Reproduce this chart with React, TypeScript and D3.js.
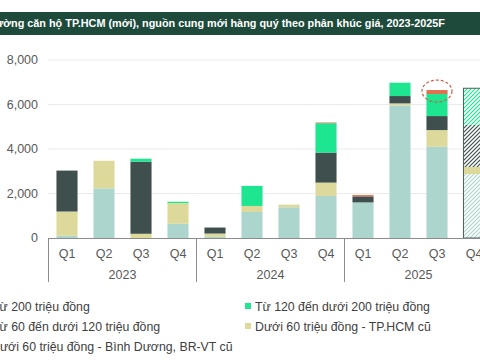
import * as d3 from "d3";
import { useEffect, useRef } from "react";

const years = ["2023", "2024", "2025"];
const quarterNames = ["Q1", "Q2", "Q3", "Q4"];
const periods = ["2023Q1", "2023Q2", "2023Q3", "2023Q4", "2024Q1", "2024Q2", "2024Q3", "2024Q4", "2025Q1", "2025Q2", "2025Q3", "2025Q4"];
const forecastPeriod = "2025Q4";

// bottom to top
const duoi60BinhDuong = [100, 2230, 0, 640, 50, 1170, 1380, 1890, 1600, 5960, 4100, 2870];
const duoi60HCM = [1090, 1240, 190, 930, 150, 270, 120, 600, 0, 90, 750, 320];
const tu60den120 = [1840, 0, 3240, 0, 270, 0, 0, 1350, 270, 330, 630, 1890];
const tu120den200 = [0, 0, 135, 60, 0, 900, 0, 1320, 0, 600, 990, 1650];
const tu200 = [0, 0, 0, 0, 0, 0, 0, 30, 60, 0, 180, 0];

const yTicks = [0, 2000, 4000, 6000, 8000];

const title = "Thị trường căn hộ TP.HCM (mới), nguồn cung mới hàng quý theo phân khúc giá, 2023-2025F";

const series = [
  { key: "bd", name: "Dưới 60 triệu đồng - Bình Dương, BR-VT cũ", values: duoi60BinhDuong, color: "#acd5ce" },
  { key: "hcm", name: "Dưới 60 triệu đồng - TP.HCM cũ", values: duoi60HCM, color: "#dcd99b" },
  { key: "mid", name: "Từ 60 đến dưới 120 triệu đồng", values: tu60den120, color: "#3e4f4e" },
  { key: "high", name: "Từ 120 đến dưới 200 triệu đồng", values: tu120den200, color: "#1ee690" },
  { key: "top", name: "Từ 200 triệu đồng", values: tu200, color: "#e0704f" }
];

const Chart = () => {
  const ref = useRef(null);

  useEffect(() => {
    const svg = d3.select(ref.current);
    svg.selectAll("*").remove();

    const width = 480;
    const font = "'Liberation Sans', Arial, sans-serif";

    // hatch patterns for the forecast bar
    const defs = svg.append("defs");
    series.forEach(s => {
      const p = defs.append("pattern")
        .attr("id", "hatch-" + s.key)
        .attr("patternUnits", "userSpaceOnUse")
        .attr("width", 4)
        .attr("height", 4);
      p.append("rect").attr("width", 4).attr("height", 4).attr("fill", "#fff");
      p.append("path")
        .attr("d", "M-1,1 l2,-2 M0,4 l4,-4 M3,5 l2,-2")
        .attr("stroke", s.color)
        .attr("stroke-width", 1.2);
    });

    // title band
    svg.append("rect")
      .attr("x", 0).attr("y", 12)
      .attr("width", width).attr("height", 23)
      .attr("fill", "#1d4a3a");
    svg.append("text")
      .attr("x", 445).attr("y", 27)
      .attr("text-anchor", "end")
      .attr("fill", "#fff")
      .attr("font-family", font)
      .attr("font-weight", "bold")
      .attr("font-size", 10.85)
      .text(title);

    const x = d3.scaleBand()
      .domain(periods)
      .range([48.5, 492.5])
      .paddingInner(0.43)
      .paddingOuter(0.215);

    const y = d3.scaleLinear()
      .domain([0, 8000])
      .range([238, 60]);

    // gridlines + y labels
    svg.append("g").selectAll("line")
      .data(yTicks.filter(t => t > 0))
      .join("line")
      .attr("x1", 48).attr("x2", width)
      .attr("y1", d => y(d)).attr("y2", d => y(d))
      .attr("stroke", "#ebebeb");

    svg.append("g").selectAll("text")
      .data(yTicks)
      .join("text")
      .attr("x", 38)
      .attr("y", d => y(d))
      .attr("dy", "0.35em")
      .attr("text-anchor", "end")
      .attr("fill", "#595959")
      .attr("font-family", font)
      .attr("font-size", 12.5)
      .text(d => d3.format(",")(d));

    // stacked bars
    const rows = periods.map((p, i) => {
      const r = { period: p };
      series.forEach(s => { r[s.key] = s.values[i]; });
      return r;
    });
    const stack = d3.stack().keys(series.map(s => s.key))(rows);

    stack.forEach((layer, li) => {
      const s = series[li];
      svg.append("g").selectAll("rect")
        .data(layer.filter(d => d[1] - d[0] > 0))
        .join("rect")
        .attr("x", d => x(d.data.period))
        .attr("width", x.bandwidth())
        .attr("y", d => y(d[1]))
        .attr("height", d => y(d[0]) - y(d[1]))
        .attr("fill", d => d.data.period === forecastPeriod && s.key !== "hcm" ? "url(#hatch-" + s.key + ")" : s.color);
    });

    // forecast outline
    const fTotal = d3.sum(series, s => s.values[periods.indexOf(forecastPeriod)]);
    svg.append("rect")
      .attr("x", x(forecastPeriod))
      .attr("y", y(fTotal))
      .attr("width", x.bandwidth())
      .attr("height", y(0) - y(fTotal))
      .attr("fill", "none")
      .attr("stroke", "#4d5e58")
      .attr("stroke-width", 1);

    // dashed highlight around 2025 Q3 top
    const hp = "2025Q3";
    const hTotal = d3.sum(series, s => s.values[periods.indexOf(hp)]);
    svg.append("ellipse")
      .attr("cx", x(hp) + x.bandwidth() / 2)
      .attr("cy", y(hTotal) + 1)
      .attr("rx", 15)
      .attr("ry", 11)
      .attr("fill", "none")
      .attr("stroke", "#c8604a")
      .attr("stroke-width", 1.2)
      .attr("stroke-dasharray", "3,2");

    // category axis
    svg.append("line")
      .attr("x1", 48).attr("x2", width)
      .attr("y1", 238.5).attr("y2", 238.5)
      .attr("stroke", "#8c8c8c");

    const step = x.step();
    years.forEach((yr, yi) => {
      const x0 = 48.5 + yi * step * 4;
      svg.append("line")
        .attr("x1", x0).attr("x2", x0)
        .attr("y1", 238).attr("y2", 282)
        .attr("stroke", "#8c8c8c");
      svg.append("text")
        .attr("x", x0 + step * 2)
        .attr("y", 279)
        .attr("text-anchor", "middle")
        .attr("fill", "#595959")
        .attr("font-family", font)
        .attr("font-size", 12.5)
        .text(yr);
    });

    svg.append("g").selectAll("text")
      .data(periods)
      .join("text")
      .attr("x", d => x(d) + x.bandwidth() / 2)
      .attr("y", 258)
      .attr("text-anchor", "middle")
      .attr("fill", "#595959")
      .attr("font-family", font)
      .attr("font-size", 12.5)
      .text((d, i) => quarterNames[i % 4]);

    // legend
    const legendItems = [
      { s: series[4], x: -8, y: 307 },
      { s: series[2], x: -8, y: 327 },
      { s: series[0], x: -9, y: 347 },
      { s: series[3], x: 255, y: 307 },
      { s: series[1], x: 255, y: 327 }
    ];
    const lg = svg.append("g").selectAll("g")
      .data(legendItems)
      .join("g");
    lg.append("rect")
      .attr("x", d => d.x - 10)
      .attr("y", d => d.y - 4)
      .attr("width", 6)
      .attr("height", 6)
      .attr("fill", d => d.s.color);
    lg.append("text")
      .attr("x", d => d.x)
      .attr("y", d => d.y)
      .attr("dy", "0.35em")
      .attr("fill", "#404040")
      .attr("font-family", font)
      .attr("font-size", 12.3)
      .text(d => d.s.name);
  }, []);

  return <svg ref={ref} width={480} height={360} style={{ position: "absolute", left: 0, top: 0, background: "#fff" }} />;
};

export default function App() {
  return <Chart />;
}
